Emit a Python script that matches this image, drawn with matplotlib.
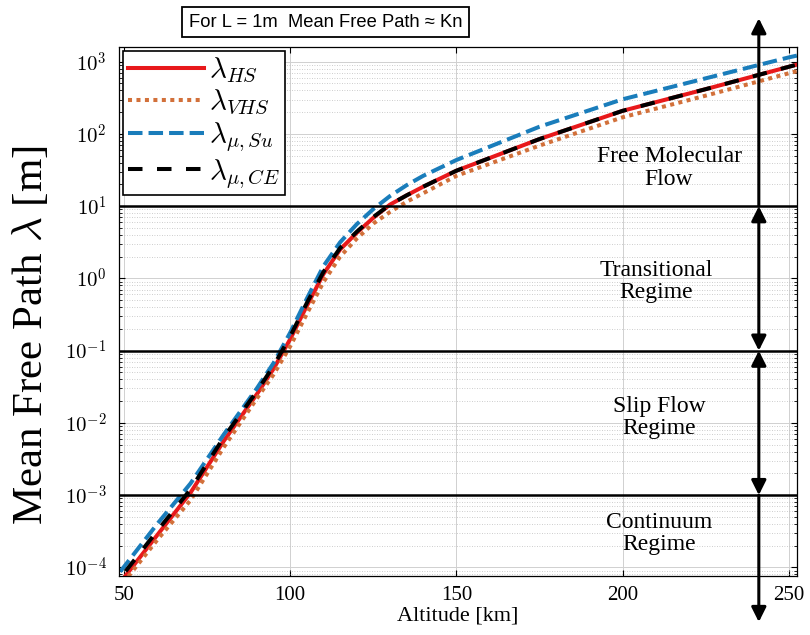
import numpy as np
import matplotlib
matplotlib.use("Agg")
import matplotlib.pyplot as plt

# === DATA ===
altitude = [45, 50, 60, 70, 80, 90, 95, 100, 105, 110, 115, 120, 125, 130, 135, 140, 150, 175, 200, 225, 250, 255]
lam_hs = [3.7e-5, 7.2e-5, 2.8e-4, 1.08e-3, 5.6e-3, 2.51e-2, 5.62e-2, 0.1445, 0.417, 1.15, 2.51, 4.27, 6.9,
          10.5, 14.1, 18.6, 31, 85, 209, 417, 851, 980]
lam_vhs = [3.2e-5, 6.3e-5, 2.4e-4, 8.5e-4, 4.6e-3, 2.19e-2, 4.68e-2, 0.115, 0.324, 0.89, 2.0, 3.55, 5.75,
           8.3, 11.5, 15.1, 26.3, 69, 170, 339, 692, 794]
lam_su = [5.2e-5, 1.02e-4, 4.0e-4, 1.45e-3, 6.9e-3, 3.02e-2, 6.76e-2, 0.178, 0.525, 1.48, 3.16, 5.62, 9.12,
          13.8, 19.5, 26.3, 43.6, 126, 302, 589, 1148, 1290]
lam_ce = [4.3e-5, 8.3e-5, 3.2e-4, 1.2e-3, 6.3e-3, 2.75e-2, 6.17e-2, 0.158, 0.457, 1.23, 2.63, 4.42, 7.08,
          10.5, 14.1, 18.6, 31, 85, 209, 417, 851, 980]

regime_bounds = [10, 0.1, 1e-3]
regime_names = ["Free Molecular\nFlow", "Transitional\nRegime", "Slip Flow\nRegime", "Continuum\nRegime"]
regime_text_x = [214, 210, 211, 211]
regime_text_y = [34, 0.91, 0.0118, 2.95e-4]

# === STYLE ===
plt.rcParams["mathtext.fontset"] = "cm"
plt.rcParams["font.family"] = ["Liberation Serif", "DejaVu Serif"]

fig = plt.figure(figsize=(8.1, 6.35), dpi=100)
ax = fig.add_axes([0.147, 0.093, 0.837, 0.833])

ax.plot(altitude, lam_hs, color="#e8191b", lw=2.9, label=r"$\lambda_{HS}$")
ax.plot(altitude, lam_vhs, color="#d2703a", lw=2.9, ls=(0, (1, 1.1)), label=r"$\lambda_{VHS}$")
ax.plot(altitude, lam_su, color="#1a7dbb", lw=2.9, ls=(0, (3.6, 1.5)), label=r"$\lambda_{\mu,Su}$")
ax.plot(altitude, lam_ce, color="black", lw=2.9, ls=(0, (3.6, 3.6)), label=r"$\lambda_{\mu,CE}$")

for b in regime_bounds:
    ax.axhline(b, color="black", lw=1.8, zorder=3)

ax.set_yscale("log")
ax.set_xlim(48.5, 252.5)
ax.set_ylim(7.6e-5, 1600)
ax.set_xticks([50, 100, 150, 200, 250])
ax.set_yticks([1e-4, 1e-3, 1e-2, 1e-1, 1e0, 1e1, 1e2, 1e3])
ax.set_yticklabels([r"$10^{%d}$" % p for p in range(-4, 4)])
ax.set_xticklabels(["50", "100", "150", "200", "250"])
ax.tick_params(which="both", direction="in", top=True, right=True, labelsize=15)
ax.tick_params(axis="y", pad=9)
ax.tick_params(axis="x", pad=7)
ax.tick_params(which="major", length=4)
ax.tick_params(which="minor", length=2)
ax.grid(True, which="major", color="#d0d0d0", lw=0.7)
ax.grid(True, which="minor", color="#bdbdbd", lw=0.6, ls=(0, (1, 2)))
for s in ax.spines.values():
    s.set_linewidth(0.9)

ax.set_xlabel("Altitude [km]", fontsize=16, labelpad=1)
ax.set_ylabel(r"Mean Free Path $\lambda$ [m]", fontsize=31)
ax.yaxis.set_label_coords(-0.1, 0.455)

# regime arrows
arrow_x = 241
arr = dict(arrowstyle="-|>", color="black", lw=2.2, mutation_scale=22, shrinkA=0, shrinkB=0)
arr2 = dict(arrowstyle="<|-|>", color="black", lw=2.2, mutation_scale=22, shrinkA=0, shrinkB=0)
ax.annotate("", xy=(arrow_x, 4000), xytext=(arrow_x, 10), arrowprops=arr, annotation_clip=False)
ax.annotate("", xy=(arrow_x, 10), xytext=(arrow_x, 0.1), arrowprops=arr2, annotation_clip=False)
ax.annotate("", xy=(arrow_x, 0.1), xytext=(arrow_x, 1e-3), arrowprops=arr2, annotation_clip=False)
ax.annotate("", xy=(arrow_x, 1.75e-5), xytext=(arrow_x, 1e-3), arrowprops=arr, annotation_clip=False)

for name, x, y in zip(regime_names, regime_text_x, regime_text_y):
    ax.text(x, y, name, ha="center", va="center", fontsize=17, linespacing=1.1, zorder=4)

leg = ax.legend(loc="upper left", fontsize=21, frameon=True, fancybox=False, framealpha=1,
                edgecolor="black", handlelength=2.6, borderpad=0.15, labelspacing=0.1,
                handletextpad=0.2, borderaxespad=0.15)
leg.get_frame().set_linewidth(1.2)

fig.text(0.402, 0.965, "For L = 1m  Mean Free Path \u2248 Kn", ha="center", va="center",
         fontsize=13.2, family=["Liberation Sans", "DejaVu Sans"],
         bbox=dict(boxstyle="square,pad=0.35", fc="white", ec="black", lw=1.3))

fig.savefig("out.png", dpi=100)
